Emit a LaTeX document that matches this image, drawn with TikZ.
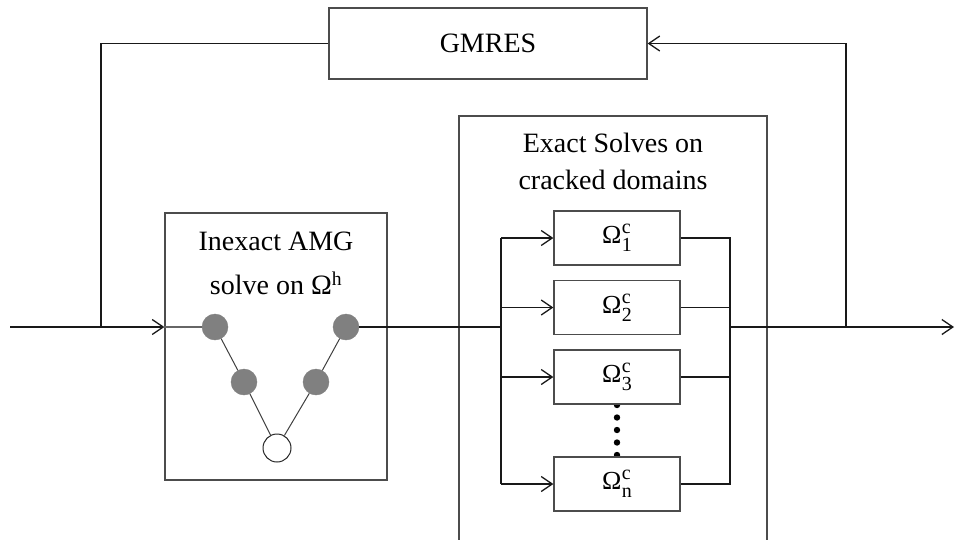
\documentclass[tikz,border=0pt]{standalone}
\usepackage{fontspec}
\setmainfont{Liberation Serif}
\usetikzlibrary{arrows.meta}
\newcommand{\omg}[1]{\raisebox{-3pt}{Ω\kern0.5pt\rlap{\raisebox{10pt}{\fontsize{20}{20}\selectfont c}}\raisebox{-8pt}{\fontsize{20}{20}\selectfont #1}}}
\begin{document}
\begin{tikzpicture}[x=1pt,y=-1pt,
  box/.style={draw=black!70,line width=1.3pt,fill=white,inner sep=0pt},
  ln/.style={draw=black!90,line width=1.4pt},
  arr/.style={ln,-{Straight Barb[length=11pt,width=15pt,line width=1.3pt]}},
  gdot/.style={circle,fill=black!50,draw=black!50,minimum size=26pt,inner sep=0pt},
  wdot/.style={circle,fill=white,draw=black!85,line width=1pt,minimum size=28pt,inner sep=0pt},
  lbl/.style={font=\fontsize{28}{32}\selectfont,inner sep=0pt},
  om/.style={box,minimum width=126pt,minimum height=54pt,font=\fontsize{26}{30}\selectfont}]
\useasboundingbox (0,0) rectangle (956,539);
\fill[white] (0,0) rectangle (956,539);
% boxes
\node[box,minimum width=318pt,minimum height=71pt,font=\fontsize{28}{32}\selectfont] (gmres) at (488,43.5) {GMRES};
\node[box,minimum width=222pt,minimum height=267pt] (amg) at (276,346.5) {};
\draw[draw=black!70,line width=1.3pt] (459,545) |- (767,116) -- (767,545);
\node[lbl] (t1) at (276,241) {Inexact AMG};
\node[lbl] (t2) at (276,283) {solve on Ω\textsuperscript{h}};
\node[lbl] (t3) at (613,143) {Exact Solves on};
\node[lbl] (t4) at (613,180) {cracked domains};
% dots between omega boxes
\foreach \yy in {405,417.5,430,442.5,455} \fill (617,\yy) circle (3.2pt);
\node[om] (o1) at (617,238) {\omg{1}};
\node[om] (o2) at (617,307.5) {\omg{2}};
\node[om] (o3) at (617,377) {\omg{3}};
\node[om] (on) at (617,484) {\omg{n}};
% V-cycle
\node[gdot] (c1) at (215,327) {};
\node[gdot] (c2) at (244,382) {};
\node[wdot] (c3) at (277,448) {};
\node[gdot] (c4) at (316,382) {};
\node[gdot] (c5) at (346,327) {};
\draw[draw=black!75,line width=1pt] (c1) -- (c2) -- (c3) -- (c4) -- (c5);
% coordinates
\coordinate (in) at (10,327);
\coordinate (lf) at (101,327);
\coordinate (sl) at (501,327);
\coordinate (sr) at (730,327);
\coordinate (rf) at (846,327);
\coordinate (out) at (954,327);
% connectors
\draw[arr] (in) -- (amg.west |- c1);
\draw[draw=black!60,line width=1.2pt] (amg.west |- c1) -- (c1);
\draw[ln,line width=1.1pt] (lf) |- (gmres.west);
\draw[arr,line width=1.1pt] (rf) |- (gmres.east);
\draw[ln] (c5) -- (sl);
\draw[ln] (sl |- o1) -- (sl |- on);
\draw[arr] (sl |- o1) -- (o1.west);
\draw[arr] (sl |- o2) -- (o2.west);
\draw[arr] (sl |- o3) -- (o3.west);
\draw[arr] (sl |- on) -- (on.west);
\draw[ln,line width=1.1pt] (o1.east) -| (sr |- on) -- (on.east);
\draw[ln,line width=1.1pt] (o2.east) -- (sr |- o2);
\draw[ln,line width=1.1pt] (o3.east) -- (sr |- o3);
\draw[arr] (sr) -- (out);
\end{tikzpicture}
\end{document}
